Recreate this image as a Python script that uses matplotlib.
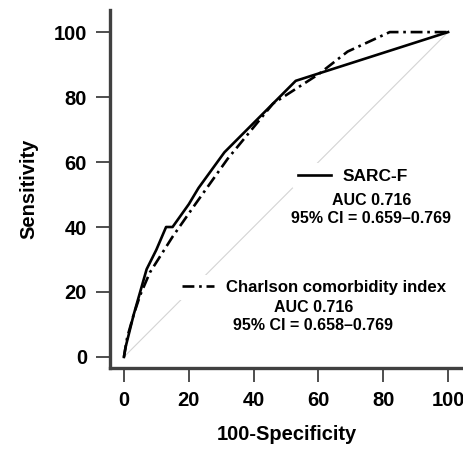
import matplotlib
matplotlib.use("Agg")
import matplotlib.pyplot as plt
from matplotlib.lines import Line2D

plt.rcParams['font.family'] = ['Liberation Sans', 'DejaVu Sans']
plt.rcParams['font.weight'] = 'bold'

# SARC-F ROC curve (100-Specificity, Sensitivity)
sarc_x = [0, 0.5, 1, 3, 5, 7, 10, 13, 15, 20, 23, 31, 41, 53, 100]
sarc_y = [0, 3, 5, 13, 20, 27, 33, 40, 40, 47, 52, 63, 73, 85, 100]

# Charlson comorbidity index ROC curve
cci_x = [0, 1, 3, 5, 8, 15, 22, 32, 46, 60, 69, 82, 100]
cci_y = [0, 6, 13, 19, 26, 37, 47, 61, 78, 87, 94, 100, 100]

diag = [0, 100]
ticks = [0, 20, 40, 60, 80, 100]

labels = ["SARC-F", "Charlson comorbidity index"]
auc_text = ["AUC 0.716\n95% CI = 0.659–0.769", "AUC 0.716\n95% CI = 0.658–0.769"]

fig = plt.figure(figsize=(4.64, 4.49), dpi=100)
ax = fig.add_axes([110/464, 1-368/449, 353/464, 358/449])

ax.plot(diag, diag, color='#d4d4d4', lw=0.8, zorder=1)
ax.plot(sarc_x, sarc_y, color='black', lw=1.9, zorder=3)
ax.plot(cci_x, cci_y, color='black', lw=1.9, dashes=(4.5, 1.8, 1, 1.8), zorder=3)

ax.set_xlim(-4.3, 104.6)
ax.set_ylim(-3.4, 106.8)
ax.set_xticks(ticks)
ax.set_yticks(ticks)
ax.tick_params(direction='out', length=10, width=1.3, color='#404040', labelsize=14.5, pad=6.5)
for lab in ax.get_xticklabels() + ax.get_yticklabels():
    lab.set_fontweight('bold')
for s in ['top', 'right']:
    ax.spines[s].set_visible(False)
for s in ['left', 'bottom']:
    ax.spines[s].set_linewidth(2.4)
    ax.spines[s].set_color('#404040')

ax.set_xlabel('100-Specificity', fontsize=14.5, fontweight='bold', labelpad=11)
ax.set_ylabel('Sensitivity', fontsize=14.5, fontweight='bold', labelpad=11)

h1 = Line2D([], [], color='black', lw=1.9)
h2 = Line2D([], [], color='black', lw=1.9, dashes=(4.5, 1.8, 1, 1.8))
leg1 = ax.legend([h1], [labels[0]], loc='center', bbox_to_anchor=(0.688, 0.536),
                 frameon=True, facecolor='white', edgecolor='none', framealpha=1,
                 fontsize=12.5, handlelength=1.9, handletextpad=0.7, borderpad=0.3)
ax.add_artist(leg1)
leg2 = ax.legend([h2], [labels[1]], loc='center', bbox_to_anchor=(0.578, 0.226),
                 frameon=True, facecolor='white', edgecolor='none', framealpha=1,
                 fontsize=12.1, handlelength=1.95, handletextpad=0.7, borderpad=0.3)
for leg in (leg1, leg2):
    for t in leg.get_texts():
        t.set_fontweight('bold')
    leg.set_zorder(2)

ax.text(76.3, 45.5, auc_text[0], ha='center', va='center', fontsize=11.5,
        fontweight='bold', linespacing=1.25, zorder=4)
ax.text(58.4, 12.3, auc_text[1], ha='center', va='center', fontsize=11.5,
        fontweight='bold', linespacing=1.25, zorder=4)

fig.savefig('out.png', dpi=100)
